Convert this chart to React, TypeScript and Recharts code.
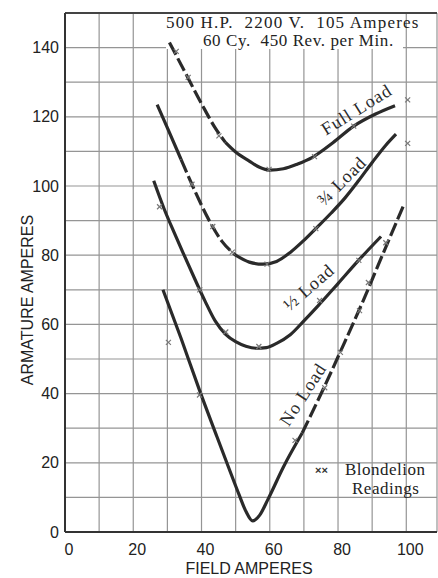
import React from 'react';
import { ComposedChart, Line, Scatter, XAxis, YAxis, CartesianGrid, ReferenceDot, ReferenceLine } from 'recharts';

// field amperes vs armature amperes, [x, y]
const fullLoad = [
  [30.6, 141.5], [35, 133.2], [40, 123.8], [44, 116.8], [47, 112.6], [50, 109.8], [54, 107.2],
  [57, 105.4], [60, 104.6], [64, 105], [68, 106.3], [72.5, 108.3], [78.5, 112.5], [84.6, 117.3],
  [91, 120.8], [96.7, 123.2],
];
const threeQuarterLoad = [
  [27, 123.5], [30, 116.8], [34, 107.7], [38, 98.7], [42, 90.5], [46, 84], [50, 80], [54, 78],
  [58, 77.4], [62, 78.2], [66, 80.8], [70, 84.3], [74, 88.2], [78, 92.2], [82, 96.5], [86, 101.5],
  [90, 106.8], [94, 111.8], [97, 115],
];
const halfLoad = [
  [26, 101.5], [29, 93.5], [32, 86.5], [35, 79.8], [38, 73.2], [41, 66.8], [44, 61], [47, 57.2],
  [50, 55], [53, 53.7], [56, 53.1], [59, 53.3], [62, 54.5], [66, 57], [70, 61], [74, 65.2],
  [80, 71.8], [86, 78.5], [92.6, 85.4],
];
const noLoad = [
  [28.7, 70], [34, 56], [39.4, 41], [44.5, 27.6], [48, 18.5], [51, 10.8], [53, 6], [55, 3.2],
  [57, 4.8], [59.5, 9.5], [64, 18.8], [69.5, 28.6], [76, 42], [81, 52.8], [87, 66], [93, 80], [99.2, 94.4],
];
// Blondelion readings (x marks)
const readings = [
  [32.6, 138.9], [36.1, 131.4], [45.1, 114.5], [59.8, 104.8], [73.1, 108.5], [84.6, 117.3], [100.4, 124.9],
  [37.2, 100.5], [43.3, 88.3], [49, 80.9], [59.2, 77.4], [73.5, 87.7], [100.4, 112.3],
  [27.7, 94], [39.5, 70], [47.1, 57.8], [56.8, 53.6], [74.6, 66.9], [86.1, 78.5], [30.3, 54.8],
  [39.4, 39.6], [67.4, 26.5], [76.1, 41.7], [80.7, 51.9], [86.3, 64], [88.9, 72.1], [94, 83.6],
];

// pieces of each curve that are drawn broken in the original: [from, to, dashed]
const fullLoadPieces = [[30.6, 47, true], [47, 96.7, false]];
const threeQuarterPieces = [[27, 34, false], [34, 50, true], [50, 97, false]];
const halfLoadPieces = [[26, 92.6, false]];
const noLoadPieces = [[28.7, 69.5, false], [69.5, 99.2, true]];

const xTicks = [0, 10, 20, 30, 40, 50, 60, 70, 80, 90, 100];
const yTicks = [0, 10, 20, 30, 40, 50, 60, 70, 80, 90, 100, 110, 120, 130, 140, 150];

const curveLabels = [
  { x: 85.7, y: 121.6, text: 'Full Load', angle: -32 },
  { x: 81.5, y: 101.1, text: '¾ Load', angle: -45 },
  { x: 71.8, y: 70.3, text: '½ Load', angle: -41 },
  { x: 70.2, y: 39.5, text: 'No Load', angle: -57 },
];

const toPts = (arr: number[][]) => arr.map(([x, y]) => ({ x, y }));

const INK = '#2a2a2a';
const GRID = '#959595';
const SERIF = '"Liberation Serif", "DejaVu Serif", serif';
const SANS = '"Liberation Sans", Arial, sans-serif';

const XMark = (props: any) => {
  const { cx, cy } = props;
  if (cx == null || cy == null) return null;
  const s = 2.5;
  return (
    <g stroke="#777" strokeWidth={1.2}>
      <line x1={cx - s} y1={cy - s} x2={cx + s} y2={cy + s} />
      <line x1={cx - s} y1={cy + s} x2={cx + s} y2={cy - s} />
    </g>
  );
};

const curveLabel = (text: string, angle: number) => ({
  content: (p: any) => {
    const vb = p.viewBox || {};
    const x = vb.x + (vb.width || 0) / 2;
    const y = vb.y + (vb.height || 0) / 2;
    return (
      <text x={x} y={y} transform={`rotate(${angle}, ${x}, ${y})`} textAnchor="middle"
        dominantBaseline="middle" fontFamily={SERIF} fontSize={18} letterSpacing={1} fill={INK}>
        {text}
      </text>
    );
  },
});

const curveLines = (name: string, data: number[][], pieces: any[]) =>
  pieces.map(([from, to, dashed], i) => (
    <Line key={`${name}-${i}`} data={toPts(data.filter(([x]) => x >= from && x <= to))}
      dataKey="y" type="monotone" dot={false} stroke={INK} strokeWidth={3.2}
      strokeDasharray={dashed ? '14 4' : undefined} isAnimationActive={false} />
  ));

export default function App() {
  return (
    <div style={{ position: 'absolute', left: 0, top: 0, background: '#fff' }}>
      <ComposedChart width={438} height={578} margin={{ top: 13, right: 1, left: 5, bottom: 0 }}>
        <CartesianGrid stroke={GRID} strokeWidth={1.2} />
        <XAxis type="number" dataKey="x" domain={[0, 109]} ticks={xTicks} allowDataOverflow
          height={46} tickLine={false} tickSize={0} tickMargin={12}
          axisLine={{ stroke: '#333', strokeWidth: 2 }}
          tickFormatter={(v: number) => (v % 20 === 0 ? String(v) : '')}
          tick={{ fontFamily: SANS, fontSize: 16, fill: '#222', dx: 4 }} />
        <YAxis type="number" dataKey="y" domain={[0, 150]} ticks={yTicks} width={60}
          tickLine={false} tickSize={0} tickMargin={6}
          axisLine={{ stroke: '#333', strokeWidth: 2 }}
          tickFormatter={(v: number) => (v % 20 === 0 && v < 150 ? String(v) : '')}
          tick={{ fontFamily: SANS, fontSize: 16, fill: '#222' }} />
        <ReferenceLine y={150} stroke="#444" strokeWidth={2} />

        {curveLines('full', fullLoad, fullLoadPieces)}
        {curveLines('threeQuarter', threeQuarterLoad, threeQuarterPieces)}
        {curveLines('half', halfLoad, halfLoadPieces)}
        {curveLines('none', noLoad, noLoadPieces)}
        <Scatter data={toPts(readings)} dataKey="y" shape={XMark} isAnimationActive={false} />

        {curveLabels.map((c) => (
          <ReferenceDot key={c.text} x={c.x} y={c.y} r={0} fill="none" stroke="none" label={curveLabel(c.text, c.angle)} />
        ))}

        <rect x={166} y={14} width={237} height={35} fill="#fff" />
        <text x={166} y={28} fontFamily={SERIF} fontSize={17} letterSpacing={1.2} fill="#222" style={{ whiteSpace: 'pre' }}>
          500 H.P.  2200 V.  105 Amperes
        </text>
        <text x={203} y={46} fontFamily={SERIF} fontSize={17} letterSpacing={0.6} fill="#222" style={{ whiteSpace: 'pre' }}>
          60 Cy.  450 Rev. per Min.
        </text>

        <text x={315} y={474} fontFamily={SANS} fontSize={11} fontWeight="bold" fill="#333">××</text>
        <text x={345} y={475} fontFamily={SERIF} fontSize={17} letterSpacing={0.5} fill="#222">Blondelion</text>
        <text x={352} y={494} fontFamily={SERIF} fontSize={17} letterSpacing={0.5} fill="#222">Readings</text>

        <text x={249} y={574} textAnchor="middle" fontFamily={SANS} fontSize={16} fill="#222">FIELD AMPERES</text>
        <text x={33} y={300} textAnchor="middle" transform="rotate(-90, 33, 300)" fontFamily={SANS} fontSize={16} fill="#222">
          ARMATURE AMPERES
        </text>
      </ComposedChart>
    </div>
  );
}
